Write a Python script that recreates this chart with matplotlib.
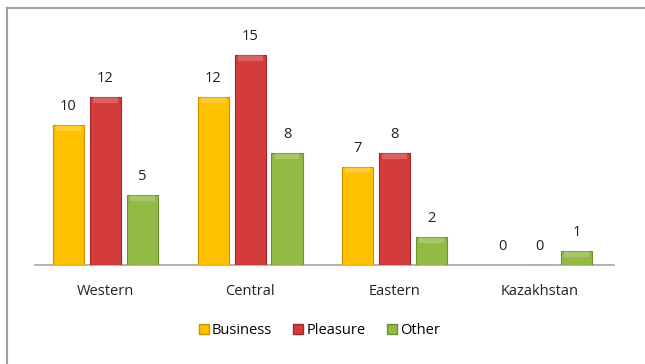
import numpy as np
import matplotlib.pyplot as plt
from matplotlib.lines import Line2D

# ---- data ----
regions = ["Western", "Central", "Eastern", "Kazakhstan"]
business = [10, 12, 7, 0]
pleasure = [12, 15, 8, 0]
other = [5, 8, 2, 1]

series_names = ["Business", "Pleasure", "Other"]
face_colours = ["#FFC000", "#D43C3C", "#93BA45"]
edge_colours = ["#C79400", "#A52525", "#6E8F2E"]

plt.rcParams["font.family"] = ["Open Sans", "DejaVu Sans"]

W, H = 645, 364
fig = plt.figure(figsize=(W / 100, H / 100), dpi=100)

# axes placed in pixel terms
left, right, base, top = 35, 614, 265, 8
px_per_unit = 14.0
ax = fig.add_axes([left / W, (H - base) / H, (right - left) / W, (base - top) / H])
ax.set_ylim(0, (base - top) / px_per_unit)
ax.set_xlim(-0.486, len(regions) - 0.486)

x = np.arange(len(regions))
bar_w = 0.215
offset = 0.255

for i, (vals, fc, ec) in enumerate(zip([business, pleasure, other], face_colours, edge_colours)):
    pos = x + (i - 1) * offset
    bars = ax.bar(pos, vals, width=bar_w, color=fc, edgecolor=ec, linewidth=0.8, zorder=3)
    for b, v in zip(bars, vals):
        ax.text(b.get_x() + b.get_width() / 2, v + 0.75, str(v),
                ha="center", va="bottom", fontsize=10.5, color="#222222")
        # light highlight strip at the top of each bar
        if v > 0:
            h = min(0.45, v * 0.4)
            ax.bar(b.get_x() + b.get_width() / 2, h, bottom=v - h,
                   width=bar_w * 0.8, color="white", alpha=0.2, linewidth=0, zorder=4)

for s in ["top", "right", "left"]:
    ax.spines[s].set_visible(False)
ax.spines["bottom"].set_color("#A6A6A6")
ax.spines["bottom"].set_linewidth(1.2)
ax.set_yticks([])
ax.set_xticks(x)
ax.set_xticklabels(regions, fontsize=10.5, color="#222222")
ax.tick_params(axis="x", length=0, pad=14)

# legend
handles = [Line2D([], [], marker="s", linestyle="none", markersize=7,
                  markerfacecolor=fc, markeredgecolor=ec) for fc, ec in zip(face_colours, edge_colours)]
fig.legend(handles, series_names, loc="center", bbox_to_anchor=(318 / W, 1 - 331 / H),
           ncol=3, frameon=False, fontsize=10.5, handletextpad=0.05, columnspacing=1.3,
           handlelength=1.0)

# chart border (only top and left edges visible)
fig.add_artist(Line2D([7 / W, 1], [1 - 8 / H, 1 - 8 / H], color="#A0A0A0", linewidth=1.5))
fig.add_artist(Line2D([7 / W, 7 / W], [0, 1 - 8 / H], color="#A0A0A0", linewidth=1.5))

fig.savefig("out.png", dpi=100)
